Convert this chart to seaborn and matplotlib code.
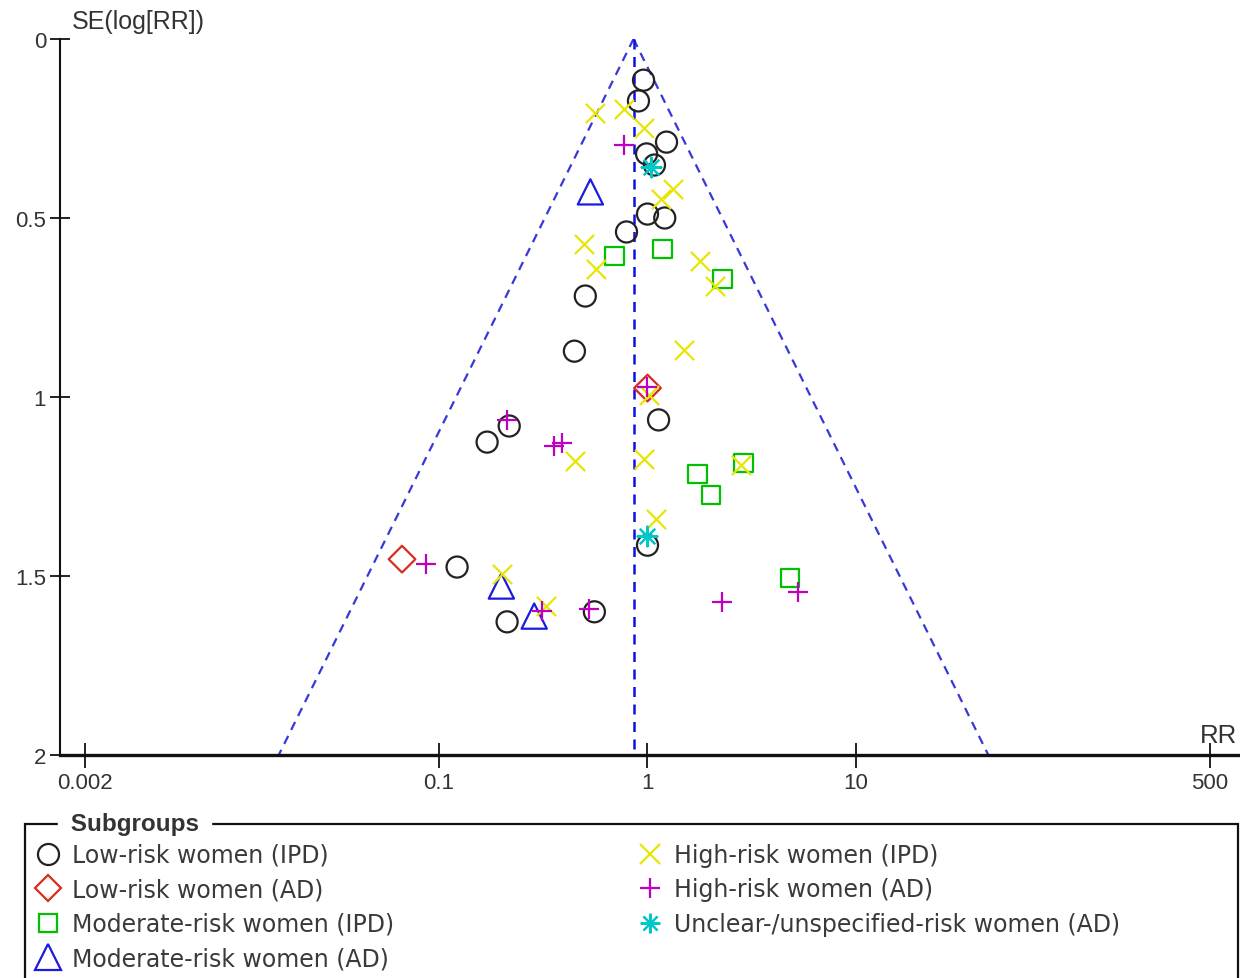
import numpy as np
import pandas as pd
import matplotlib
matplotlib.use("Agg")
import matplotlib.pyplot as plt
from matplotlib.lines import Line2D
from matplotlib.patches import Rectangle
import seaborn as sns

sns.set_theme(style="white")
plt.rcParams['font.family'] = ['Liberation Sans', 'DejaVu Sans']

# ---- data (RR, SE(log RR)) per subgroup ----
low_ipd_rr = [0.957, 0.905, 1.234, 0.99, 1.08, 1.0, 1.21, 0.793, 0.503, 0.446, 1.13, 0.217, 0.170, 1.0, 0.122, 0.212, 0.556]
low_ipd_se = [0.115, 0.173, 0.288, 0.321, 0.352, 0.489, 0.50, 0.539, 0.718, 0.872, 1.064, 1.081, 1.126, 1.414, 1.475, 1.628, 1.60]

low_ad_rr = [1.0, 0.0664]
low_ad_se = [0.975, 1.453]

mod_ipd_rr = [0.694, 1.18, 2.29, 1.74, 2.01, 2.89, 4.82]
mod_ipd_se = [0.606, 0.587, 0.670, 1.215, 1.274, 1.184, 1.506]

mod_ad_rr = [0.532, 0.199, 0.286]
mod_ad_se = [0.427, 1.528, 1.612]

high_ipd_rr = [0.562, 0.775, 0.967, 1.32, 1.155, 0.498, 0.568, 1.78, 2.10, 1.49, 1.02, 0.451, 0.957, 2.80, 1.10, 0.201, 0.327]
high_ipd_se = [0.207, 0.196, 0.249, 0.419, 0.447, 0.573, 0.642, 0.620, 0.690, 0.869, 0.994, 1.179, 1.173, 1.19, 1.341, 1.494, 1.584]

high_ad_rr = [0.775, 1.0, 0.212, 0.357, 0.390, 0.0866, 0.313, 0.526, 2.27, 5.26]
high_ad_se = [0.296, 0.972, 1.064, 1.137, 1.128, 1.466, 1.598, 1.592, 1.573, 1.545]

unclear_ad_rr = [1.045, 1.0]
unclear_ad_se = [0.358, 1.388]

pooled_rr = 0.857
se_max = 2.0

x_ticks = [0.002, 0.1, 1, 10, 500]
x_ticklabels = ['0.002', '0.1', '1', '10', '500']
y_ticks = [0, 0.5, 1, 1.5, 2]
y_ticklabels = ['0', '0.5', '1', '1.5', '2']

groups = [
    ("Low-risk women (IPD)", low_ipd_rr, low_ipd_se, 'o', '#222222', True, 230),
    ("Low-risk women (AD)", low_ad_rr, low_ad_se, 'D', '#d92b22', True, 185),
    ("Moderate-risk women (IPD)", mod_ipd_rr, mod_ipd_se, 's', '#00c000', True, 175),
    ("Moderate-risk women (AD)", mod_ad_rr, mod_ad_se, '^', '#1a1ae0', True, 330),
    ("High-risk women (IPD)", high_ipd_rr, high_ipd_se, 'x', '#e6e600', False, 190),
    ("High-risk women (AD)", high_ad_rr, high_ad_se, '+', '#c000c0', False, 200),
    ("Unclear-/unspecified-risk women (AD)", unclear_ad_rr, unclear_ad_se, (8, 2, 0), '#00c8c8', False, 200),
]

W, H = 1240, 979
fig = plt.figure(figsize=(W / 100, H / 100), dpi=100)
ax = fig.add_axes([60 / W, (H - 756) / H, 1180 / W, (756 - 40) / H])

# funnel
se_line = np.array([0.0, se_max])
funnel_col = '#3838d8'
ax.plot(pooled_rr * np.exp(-1.96 * se_line), se_line, ls=(0, (4, 3)), color=funnel_col, lw=1.6)
ax.plot(pooled_rr * np.exp(1.96 * se_line), se_line, ls=(0, (4, 3)), color=funnel_col, lw=1.6)
ax.plot([pooled_rr, pooled_rr], [0, se_max], ls=(0, (4, 3)), color='#1010e0', lw=1.8)

handles = []
for name, rr, se, m, c, filled, s in groups:
    df = pd.DataFrame({"RR": rr, "SE": se})
    if filled:
        sns.scatterplot(data=df, x="RR", y="SE", ax=ax, marker=m, s=s, color=c,
                        facecolor='none', edgecolor=c, linewidth=1.6, legend=False, zorder=3)
        h = Line2D([], [], ls='none', marker=m, markersize=np.sqrt(s), markerfacecolor='none',
                   markeredgecolor=c, markeredgewidth=1.6)
    else:
        sns.scatterplot(data=df, x="RR", y="SE", ax=ax, marker=m, s=s, color=c,
                        linewidth=1.6, legend=False, zorder=3)
        h = Line2D([], [], ls='none', marker=m, markersize=np.sqrt(s), color=c,
                   markeredgewidth=1.6)
    handles.append((h, name))

ax.set_xscale('log')
ax.set_xlim(10 ** -2.819, 10 ** 2.843)
ax.set_ylim(2, 0)
ax.set_xticks(x_ticks)
ax.set_xticklabels(x_ticklabels)
ax.xaxis.set_minor_locator(matplotlib.ticker.NullLocator())
ax.set_yticks(y_ticks)
ax.set_yticklabels(y_ticklabels)
ax.set_xlabel('')
ax.set_ylabel('')
for sp in ['top', 'right']:
    ax.spines[sp].set_visible(False)
ax.spines['left'].set_color('#111111')
ax.spines['left'].set_linewidth(1.5)
ax.spines['bottom'].set_color('#111111')
ax.spines['bottom'].set_linewidth(2.4)
ax.tick_params(axis='both', direction='inout', bottom=True, left=True, width=1.3,
               colors='#111111', labelsize=16, labelcolor='#333333')
ax.tick_params(axis='x', length=18, pad=3)
ax.tick_params(axis='y', length=14, pad=3)

fig.text(72 / W, 1 - 22 / H, 'SE(log[RR])', fontsize=18, color='#333333', ha='left', va='center')
fig.text(1218 / W, 1 - 736 / H, 'RR', fontsize=18.5, color='#333333', ha='center', va='center')

# legend box
box = Rectangle((25 / W, -0.05), (1238 - 25) / W, (0.05 + (H - 825) / H), transform=fig.transFigure,
                fill=False, edgecolor='#111111', lw=1.6, clip_on=False)
fig.add_artist(box)
fig.text(64 / W, 1 - 824 / H, ' Subgroups ', fontsize=17.5, fontweight='bold', color='#333333',
         ha='left', va='center', backgroundcolor='white')

kw = dict(frameon=False, prop={'family': 'DejaVu Sans', 'size': 17}, handletextpad=0.45,
          labelspacing=0.44, borderaxespad=0, borderpad=0, handlelength=1.1, labelcolor='#3a3a3a')
leg1 = fig.legend([h for h, _ in handles[:4]], [n for _, n in handles[:4]],
                  loc='upper left', bbox_to_anchor=(35 / W, 1 - 844 / H), **kw)
leg2 = fig.legend([h for h, _ in handles[4:]], [n for _, n in handles[4:]],
                  loc='upper left', bbox_to_anchor=(637 / W, 1 - 844 / H), **kw)

fig.savefig('out.png', dpi=100)
